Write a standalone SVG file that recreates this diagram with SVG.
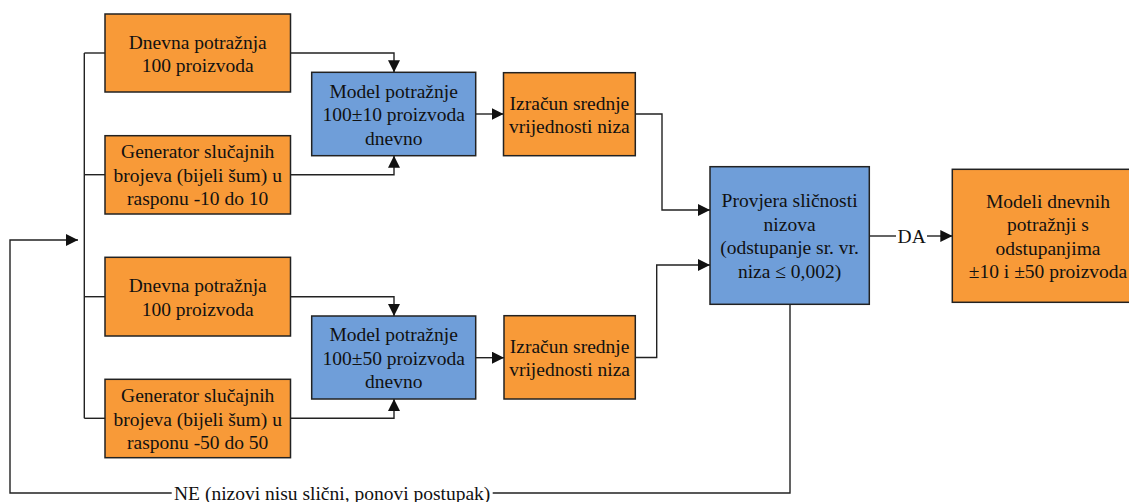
<svg xmlns="http://www.w3.org/2000/svg" width="1129" height="502" viewBox="0 0 1129 502" font-family="'Liberation Serif', 'Times New Roman', Tinos, 'DejaVu Serif', serif">
<style>
.or{fill:#F89A38;stroke:#222;stroke-width:1.5}
.bl{fill:#6F9ED9;stroke:#222;stroke-width:1.5}
.t{font-family:'Liberation Serif', 'Times New Roman', Tinos, 'DejaVu Serif', serif;font-size:19.5px;fill:#111;text-anchor:middle}
.c{fill:none;stroke:#222;stroke-width:1.4}
</style>
<defs>
<marker id="ah" markerUnits="userSpaceOnUse" markerWidth="12" markerHeight="12" refX="12" refY="6" orient="auto">
<path d="M0,0 L12,6 L0,12 z" fill="#111"/>
</marker>
</defs>
<rect width="1129" height="502" fill="#fff"/>
<g id="connectors">
<path class="c" d="M84.3,53 V418.3"/>
<path class="c" d="M84.3,53 H105"/>
<path class="c" d="M84.3,174.7 H105"/>
<path class="c" d="M84.3,296.7 H105"/>
<path class="c" d="M84.3,418.3 H105"/>
<path class="c" d="M290,53 H394 V72.3" marker-end="url(#ah)"/>
<path class="c" d="M290,174.7 H394 V155.7" marker-end="url(#ah)"/>
<path class="c" d="M290,296.7 H394 V316" marker-end="url(#ah)"/>
<path class="c" d="M290,418.3 H394 V399" marker-end="url(#ah)"/>
<path class="c" d="M475.7,114 H503.5" marker-end="url(#ah)"/>
<path class="c" d="M475.7,357.7 H504" marker-end="url(#ah)"/>
<path class="c" d="M635.3,114 H662 V210 H710" marker-end="url(#ah)"/>
<path class="c" d="M635.3,357.5 H656.7 V265 H710" marker-end="url(#ah)"/>
<path class="c" d="M869.3,236 H896"/>
<path class="c" d="M927,236 H952.3" marker-end="url(#ah)"/>
<text class="t" x="911.7" y="243">DA</text>
<path class="c" d="M790,304.3 V493 H492.7"/>
<path class="c" d="M171.7,493 H10 V240 H78" marker-end="url(#ah)"/>
<text class="t" x="332.2" y="500">NE (nizovi nisu slični, ponovi postupak)</text>
</g>
<g id="dnevna1">
<rect class="or" x="105" y="14" width="185.5" height="78"/>
<text class="t" x="197.7" y="48.5">Dnevna potražnja</text>
<text class="t" x="197.7" y="72">100 proizvoda</text>
</g>
<g id="generator1">
<rect class="or" x="105" y="135.7" width="185.5" height="78.3"/>
<text class="t" x="197.7" y="158.3">Generator slučajnih</text>
<text class="t" x="197.7" y="181.8">brojeva (bijeli šum) u</text>
<text class="t" x="197.7" y="205.3">rasponu -10 do 10</text>
</g>
<g id="model1">
<rect class="bl" x="311.7" y="72.3" width="164" height="83.4"/>
<text class="t" x="393.7" y="97.5">Model potražnje</text>
<text class="t" x="393.7" y="121">100±10 proizvoda</text>
<text class="t" x="393.7" y="144.5">dnevno</text>
</g>
<g id="izracun1">
<rect class="or" x="503.5" y="72.7" width="131.8" height="83"/>
<text class="t" x="569.4" y="109.5">Izračun srednje</text>
<text class="t" x="569.4" y="133">vrijednosti niza</text>
</g>
<g id="dnevna2">
<rect class="or" x="105" y="257.3" width="185.5" height="78.7"/>
<text class="t" x="197.7" y="292.2">Dnevna potražnja</text>
<text class="t" x="197.7" y="315.7">100 proizvoda</text>
</g>
<g id="generator2">
<rect class="or" x="105" y="379.3" width="185.5" height="78.4"/>
<text class="t" x="197.7" y="402">Generator slučajnih</text>
<text class="t" x="197.7" y="425.5">brojeva (bijeli šum) u</text>
<text class="t" x="197.7" y="449">rasponu -50 do 50</text>
</g>
<g id="model2">
<rect class="bl" x="311.7" y="316" width="164" height="83"/>
<text class="t" x="393.7" y="341">Model potražnje</text>
<text class="t" x="393.7" y="364.5">100±50 proizvoda</text>
<text class="t" x="393.7" y="388">dnevno</text>
</g>
<g id="izracun2">
<rect class="or" x="504" y="315.7" width="131.3" height="83.3"/>
<text class="t" x="569.6" y="352.6">Izračun srednje</text>
<text class="t" x="569.6" y="376.1">vrijednosti niza</text>
</g>
<g id="provjera">
<rect class="bl" x="710" y="166.7" width="159.3" height="137.6"/>
<text class="t" x="789.6" y="207.3">Provjera sličnosti</text>
<text class="t" x="789.6" y="230.8">nizova</text>
<text class="t" x="789.6" y="254.3">(odstupanje sr. vr.</text>
<text class="t" x="789.6" y="277.8">niza ≤ 0,002)</text>
</g>
<g id="modeli">
<rect class="or" x="952.3" y="169.3" width="192" height="133"/>
<text class="t" x="1048" y="207.5">Modeli dnevnih</text>
<text class="t" x="1048" y="231">potražnji s</text>
<text class="t" x="1048" y="254.5">odstupanjima</text>
<text class="t" x="1048" y="278">±10 i ±50 proizvoda</text>
</g>
</svg>
